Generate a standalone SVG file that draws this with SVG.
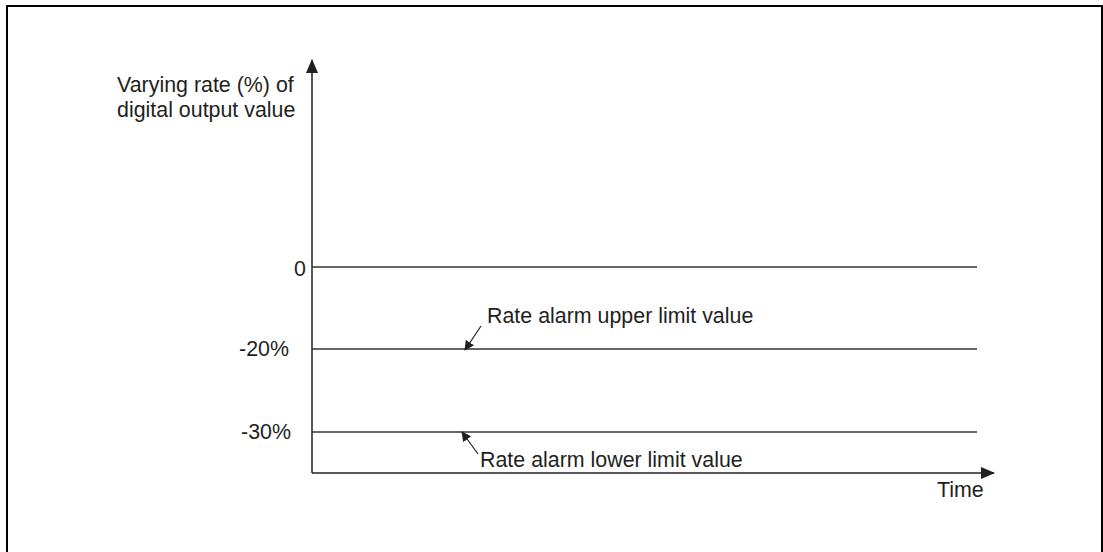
<svg xmlns="http://www.w3.org/2000/svg" width="1103" height="552" viewBox="0 0 1103 552">
<style>
text{font-family:"Liberation Sans",Arial,sans-serif;font-size:21.4px;fill:#231f20}
.ln{stroke:#333;stroke-width:1.3;fill:none}
.ax{stroke:#231f20;stroke-width:1.5;fill:none}
.pt{stroke:#231f20;stroke-width:1.2;fill:none}
</style>
<defs>
<marker id="ah" markerWidth="10" markerHeight="10" refX="9" refY="5" orient="auto" markerUnits="userSpaceOnUse">
<path d="M0,0 L10,5 L0,10 Z" fill="#231f20"/>
</marker>
<marker id="big" markerWidth="14" markerHeight="12" refX="13" refY="6" orient="auto" markerUnits="userSpaceOnUse">
<path d="M0,0 L14,6 L0,12 Z" fill="#231f20"/>
</marker>
</defs>
<rect x="7" y="6" width="1095" height="600" fill="#fff" stroke="#000" stroke-width="2"/>
<g id="connectors">
<line class="ax" x1="312" y1="473" x2="312" y2="60" marker-end="url(#big)"/>
<line class="ax" x1="312" y1="473" x2="994" y2="473" marker-end="url(#big)"/>
<line class="ln" x1="312" y1="267" x2="977" y2="267"/>
<line class="ln" x1="312" y1="349" x2="977" y2="349"/>
<line class="ln" x1="312" y1="432" x2="977" y2="432"/>
<line class="pt" x1="481" y1="326" x2="465" y2="350" marker-end="url(#ah)"/>
<line class="pt" x1="478" y1="454" x2="462" y2="432" marker-end="url(#ah)"/>
</g>
<g id="ylabel">
<text x="117" y="92">Varying rate (%) of</text>
<text x="117" y="117">digital output value</text>
</g>
<g id="tick0"><text x="306" y="276" text-anchor="end">0</text></g>
<g id="tick20"><text x="289" y="356" text-anchor="end">-20%</text></g>
<g id="tick30"><text x="291" y="439" text-anchor="end">-30%</text></g>
<g id="upper"><text x="487" y="323">Rate alarm upper limit value</text></g>
<g id="lower"><text x="480" y="467">Rate alarm lower limit value</text></g>
<g id="xlabel"><text x="937" y="497">Time</text></g>
</svg>
